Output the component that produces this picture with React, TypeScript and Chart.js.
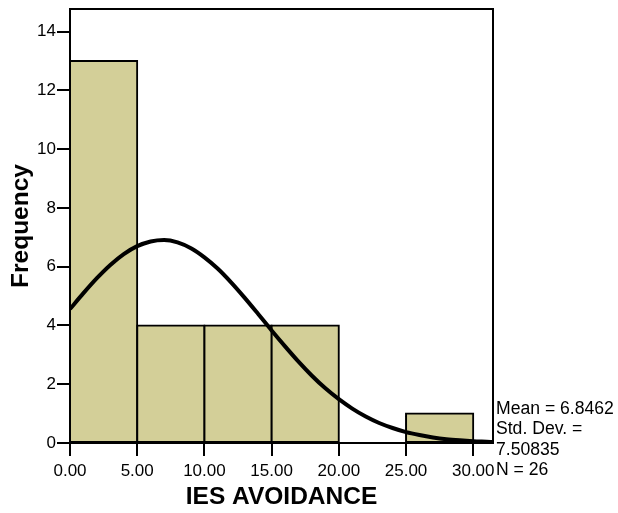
import React, { useEffect, useRef } from 'react';
import { Chart, registerables } from 'chart.js';

Chart.register(...registerables);

// Histogram bins (bin centres, width 5) and frequencies
const binCenters = [2.5, 7.5, 12.5, 17.5, 22.5, 27.5];
const binCounts = [13, 4, 4, 4, 0, 1];

// Fitted normal curve
const curveX = [0, 1, 2, 3, 4, 5, 6, 7, 8, 9, 10, 11, 12, 13, 14, 15, 16, 17, 18, 19, 20, 21, 22, 23, 24, 25, 26, 27, 28, 29, 30, 31, 31.47];
const curveY = [4.56, 5.10, 5.61, 6.06, 6.43, 6.70, 6.86, 6.91, 6.83, 6.63, 6.32, 5.93, 5.46, 4.94, 4.39, 3.83, 3.29, 2.77, 2.29, 1.86, 1.49, 1.17, 0.90, 0.68, 0.51, 0.37, 0.27, 0.19, 0.13, 0.09, 0.06, 0.04, 0.03];

const xTicks = [0, 5, 10, 15, 20, 25, 30];
const yTicks = [0, 2, 4, 6, 8, 10, 12, 14];
const xMin = 0;
const xMax = 31.47;
const yMin = 0;
const yMax = 14.77;

const statsLines = ['Mean = 6.8462', 'Std. Dev. =', '7.50835', 'N = 26'];
const xTitle = 'IES AVOIDANCE';
const yTitle = 'Frequency';

const FONT = 'Arial, "Liberation Sans", Helvetica, sans-serif';
const BAR_FILL = '#d3cf98';

const framePlugin = {
  id: 'frameAndStats',
  afterDraw(chart: any) {
    const { ctx, chartArea } = chart;
    ctx.save();
    ctx.strokeStyle = '#000';
    ctx.lineWidth = 2;
    ctx.beginPath();
    ctx.moveTo(chartArea.left, chartArea.top);
    ctx.lineTo(chartArea.right, chartArea.top);
    ctx.lineTo(chartArea.right, chartArea.bottom);
    ctx.stroke();

    ctx.fillStyle = '#000';
    ctx.font = '17.6px ' + FONT;
    ctx.textAlign = 'left';
    ctx.textBaseline = 'alphabetic';
    const x = chartArea.right + 3;
    const base = chartArea.bottom - 29;
    statsLines.forEach((t, i) => {
      ctx.fillText(t, x, base + i * 20.3);
    });
    ctx.restore();
  },
};

export default function App() {
  const canvasRef = useRef<HTMLCanvasElement | null>(null);

  useEffect(() => {
    document.body.style.margin = '0';
    const canvas = canvasRef.current;
    if (!canvas) return;

    const chart = new Chart(canvas, {
      type: 'bar',
      data: {
        datasets: [
          {
            type: 'line',
            data: curveX.map((x, i) => ({ x, y: curveY[i] })),
            borderColor: '#000',
            borderWidth: 4,
            pointRadius: 0,
            fill: false,
            cubicInterpolationMode: 'monotone',
            order: 0,
          } as any,
          {
            type: 'bar',
            data: binCenters.map((x, i) => ({ x, y: binCounts[i] })),
            backgroundColor: BAR_FILL,
            borderColor: '#000',
            borderWidth: 2,
            inflateAmount: 1,
            borderSkipped: false,
            barPercentage: 1,
            categoryPercentage: 1,
            order: 1,
          } as any,
        ],
      },
      options: {
        responsive: false,
        animation: false,
        events: [],
        layout: { padding: { top: 9, right: 125, left: 0, bottom: 0 } },
        plugins: {
          legend: { display: false },
          tooltip: { enabled: false },
        },
        scales: {
          x: {
            type: 'linear',
            min: xMin,
            max: xMax,
            offset: false,
            grid: {
              offset: false,
              drawOnChartArea: false,
              drawTicks: true,
              tickLength: 13,
              color: '#000',
              lineWidth: 2,
            },
            border: { display: true, color: '#000', width: 2 },
            ticks: {
              color: '#000',
              font: { family: FONT, size: 17 },
              padding: 5,
              maxRotation: 0,
              autoSkip: false,
              callback: (v: any) => Number(v).toFixed(2),
            },
            afterBuildTicks: (scale: any) => {
              scale.ticks = xTicks.map((v) => ({ value: v }));
            },
            afterFit: (scale: any) => {
              scale.height = 70;
              scale.paddingLeft = 0;
              scale.paddingRight = 0;
            },
            title: {
              display: true,
              text: xTitle,
              color: '#000',
              font: { family: FONT, size: 24.5, weight: 'bold' },
              padding: { top: 0, bottom: 1 },
            },
          },
          y: {
            type: 'linear',
            min: yMin,
            max: yMax,
            grid: {
              drawOnChartArea: false,
              drawTicks: true,
              tickLength: 13,
              color: '#000',
              lineWidth: 2,
            },
            border: { display: true, color: '#000', width: 2 },
            ticks: {
              color: '#000',
              font: { family: FONT, size: 17 },
              padding: 1,
              autoSkip: false,
            },
            afterBuildTicks: (scale: any) => {
              scale.ticks = yTicks.map((v) => ({ value: v }));
            },
            afterFit: (scale: any) => {
              scale.width = 70;
              scale.paddingTop = 0;
              scale.paddingBottom = 0;
            },
            title: {
              display: true,
              text: yTitle,
              color: '#000',
              font: { family: FONT, size: 24.5, weight: 'bold' },
              padding: { top: 7, bottom: 0 },
            },
          },
        },
      } as any,
      plugins: [framePlugin],
    });

    return () => {
      chart.destroy();
    };
  }, []);

  return (
    <div style={{ width: 618, height: 513, background: '#fff' }}>
      <canvas ref={canvasRef} width={618} height={513} style={{ display: 'block' }} />
    </div>
  );
}
